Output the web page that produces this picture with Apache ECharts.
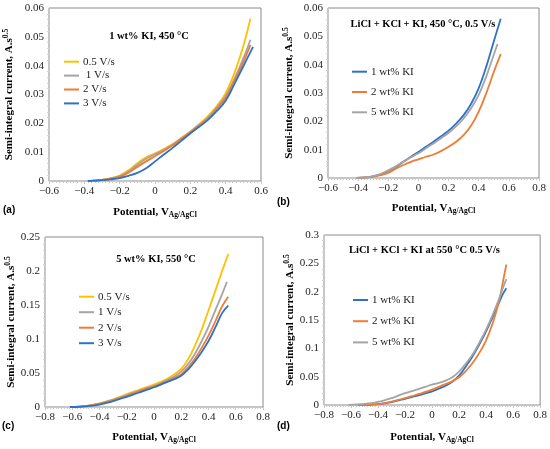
<!DOCTYPE html>
<html>
<head>
<meta charset="utf-8">
<script src="https://cdn.jsdelivr.net/npm/echarts@6/dist/echarts.min.js"></script>
<style>
html,body{margin:0;padding:0;background:#fff;}
#c{width:550px;height:449px;}
</style>
</head>
<body>
<div id="c"></div>
<script>
// ---------- data ----------
// Panel (a): 1 wt% KI, 450 °C
const potA  = [-0.38, -0.35, -0.3, -0.25, -0.2, -0.15, -0.1, -0.05, 0, 0.05, 0.1, 0.15, 0.2, 0.25, 0.3, 0.35, 0.4, 0.45, 0.5, 0.54, 0.555];
const a_05  = [0, 0.0001, 0.0004, 0.0010, 0.0019, 0.0037, 0.0062, 0.0082, 0.0096, 0.0111, 0.0128, 0.0150, 0.0172, 0.0197, 0.0225, 0.0260, 0.0305, 0.0375, 0.0468, 0.0563, null];
const a_1   = [0, 0.0001, 0.0004, 0.0009, 0.0017, 0.0033, 0.0056, 0.0077, 0.0093, 0.0108, 0.0126, 0.0148, 0.0170, 0.0195, 0.0220, 0.0255, 0.0295, 0.0355, 0.0425, 0.0490, null];
const a_2   = [0, 0.0001, 0.0004, 0.0008, 0.0015, 0.0029, 0.0049, 0.0068, 0.0086, 0.0104, 0.0124, 0.0146, 0.0168, 0.0192, 0.0216, 0.0250, 0.0288, 0.0348, 0.0412, 0.0472, null];
const a_3   = [0, 0.0001, 0.0003, 0.0006, 0.0010, 0.0018, 0.0028, 0.0044, 0.0068, 0.0092, 0.0115, 0.0140, 0.0165, 0.0188, 0.0212, 0.0243, 0.0278, 0.0337, 0.0398, null, 0.0465];
// Panel (b): LiCl + KCl + KI, 450 °C, 0.5 V/s
const potB  = [-0.41, -0.35, -0.3, -0.25, -0.2, -0.15, -0.1, -0.05, 0, 0.05, 0.1, 0.15, 0.2, 0.25, 0.3, 0.35, 0.4, 0.45, 0.5, 0.525, 0.546];
const b_1wt = [0, 0.0002, 0.0006, 0.0013, 0.0025, 0.0039, 0.0057, 0.0075, 0.0092, 0.0110, 0.0128, 0.0147, 0.0167, 0.0192, 0.0222, 0.0262, 0.0317, 0.0393, 0.0482, null, 0.0562];
const b_2wt = [0, 0.0002, 0.0005, 0.0010, 0.0018, 0.0033, 0.0046, 0.0057, 0.0066, 0.0075, 0.0083, 0.0095, 0.0110, 0.0128, 0.0151, 0.0185, 0.0234, 0.0299, 0.0374, null, 0.0437];
const b_5wt = [0, 0.0002, 0.0007, 0.0015, 0.0027, 0.0041, 0.0058, 0.0073, 0.0087, 0.0105, 0.0122, 0.0140, 0.0159, 0.0182, 0.0210, 0.0246, 0.0293, 0.0358, 0.0435, 0.0473, null];
// Panel (c): 5 wt% KI, 550 °C
const potC  = [-0.617, -0.55, -0.5, -0.45, -0.4, -0.35, -0.3, -0.25, -0.2, -0.15, -0.1, -0.05, 0, 0.05, 0.1, 0.15, 0.2, 0.25, 0.3, 0.35, 0.4, 0.45, 0.5, 0.535, 0.545];
const c_05  = [0, 0.0005, 0.0015, 0.0032, 0.0055, 0.0083, 0.0113, 0.0150, 0.0190, 0.0225, 0.0260, 0.0295, 0.0330, 0.0370, 0.0420, 0.0480, 0.0560, 0.0700, 0.0900, 0.1140, 0.1420, 0.1710, 0.2000, null, 0.2250];
const c_1   = [0, 0.0004, 0.0013, 0.0030, 0.0050, 0.0077, 0.0105, 0.0140, 0.0175, 0.0210, 0.0245, 0.0280, 0.0310, 0.0350, 0.0400, 0.0450, 0.0520, 0.0630, 0.0780, 0.0970, 0.1180, 0.1420, 0.1660, 0.1840, null];
const c_2   = [0, 0.0004, 0.0012, 0.0027, 0.0045, 0.0070, 0.0097, 0.0130, 0.0165, 0.0200, 0.0238, 0.0270, 0.0300, 0.0340, 0.0380, 0.0430, 0.0480, 0.0580, 0.0710, 0.0870, 0.1050, 0.1260, 0.1480, null, 0.1620];
const c_3   = [0, 0.0003, 0.0010, 0.0020, 0.0035, 0.0060, 0.0088, 0.0120, 0.0150, 0.0185, 0.0220, 0.0255, 0.0290, 0.0330, 0.0370, 0.0410, 0.0460, 0.0550, 0.0670, 0.0810, 0.0970, 0.1170, 0.1380, null, 0.1490];
// Panel (d): LiCl + KCl + KI at 550 °C 0.5 V/s
const potD  = [-0.62, -0.55, -0.5, -0.45, -0.4, -0.35, -0.3, -0.25, -0.2, -0.15, -0.1, -0.05, 0, 0.05, 0.1, 0.15, 0.2, 0.25, 0.3, 0.35, 0.4, 0.45, 0.5, 0.525, 0.55];
const d_1wt = [null, 0, 0.0003, 0.0008, 0.0015, 0.0030, 0.0050, 0.0080, 0.0110, 0.0140, 0.0170, 0.0205, 0.0240, 0.0290, 0.0340, 0.0410, 0.0520, 0.0680, 0.0860, 0.1070, 0.1300, 0.1560, 0.1830, 0.1960, 0.2060];
const d_2wt = [null, 0, 0.0003, 0.0008, 0.0015, 0.0035, 0.0060, 0.0090, 0.0120, 0.0155, 0.0190, 0.0230, 0.0270, 0.0320, 0.0370, 0.0420, 0.0490, 0.0600, 0.0740, 0.0920, 0.1140, 0.1450, 0.1870, 0.2180, 0.2480];
const d_5wt = [0, 0.0010, 0.0020, 0.0033, 0.0055, 0.0085, 0.0120, 0.0165, 0.0210, 0.0245, 0.0280, 0.0320, 0.0360, 0.0390, 0.0430, 0.0490, 0.0590, 0.0730, 0.0890, 0.1100, 0.1330, 0.1600, 0.1900, 0.2070, 0.2220];

const titles = ['1 wt% KI, 450 °C', 'LiCl + KCl + KI, 450 °C, 0.5 V/s', '5 wt% KI, 550 °C', 'LiCl + KCl + KI at 550 °C 0.5 V/s'];
const panelTags = ['(a)', '(b)', '(c)', '(d)'];
const xTicksA = {min: -0.6, max: 0.6, interval: 0.2};
const xTicksB = {min: -0.6, max: 0.8, interval: 0.2};
const xTicksCD = {min: -0.8, max: 0.8, interval: 0.2};
const yTicksAB = {min: 0, max: 0.06, interval: 0.01};
const yTicksC = {min: 0, max: 0.25, interval: 0.05};
const yTicksD = {min: 0, max: 0.3, interval: 0.05};

// ---------- style ----------
const SERIF = 'Liberation Serif';
const COL = {yellow: '#FFC000', gray: '#A5A5A5', orange: '#F07C34', blue: '#2E72C8'};

const panels = [
  {grid: {left: 49, top: 8, width: 212, height: 173}, x: xTicksA, y: yTicksAB, pot: potA,
   series: [['0.5 V/s', a_05, COL.yellow], [' 1 V/s', a_1, COL.gray], ['2 V/s', a_2, COL.orange], ['3 V/s', a_3, COL.blue]],
   legend: {left: 64, top: 55.7, gap: 1.9}, title: [149, 36], tag: [3, 210], yGap: 33, xGap: 24},
  {grid: {left: 328, top: 8, width: 211, height: 170}, x: xTicksB, y: yTicksAB, pot: potB,
   series: [['1 wt% KI', b_1wt, COL.blue], ['2 wt% KI', b_2wt, COL.orange], ['5 wt% KI', b_5wt, COL.gray]],
   legend: {left: 352, top: 65.7, gap: 8.3}, title: [423, 24], tag: [277, 202], yGap: 32, xGap: 23},
  {grid: {left: 45, top: 237, width: 218, height: 170}, x: xTicksCD, y: yTicksC, pot: potC,
   series: [['0.5 V/s', c_05, COL.yellow], ['1 V/s', c_1, COL.gray], ['2 V/s', c_2, COL.orange], ['3 V/s', c_3, COL.blue]],
   legend: {left: 79, top: 290.7, gap: 3.5}, title: [156, 259.5], tag: [2, 426], yGap: 26, xGap: 23},
  {grid: {left: 324, top: 235, width: 217, height: 170}, x: xTicksCD, y: yTicksD, pot: potD,
   series: [['1 wt% KI', d_1wt, COL.blue], ['2 wt% KI', d_2wt, COL.orange], ['5 wt% KI', d_5wt, COL.gray]],
   legend: {left: 353, top: 294, gap: 9.2}, title: [424.5, 250], tag: [277, 426], yGap: 27, xGap: 25}
];

const fmtX = v => { const r = Math.round(v * 10) / 10; return r < 0 ? '\u2212' + Math.abs(r) : String(r); };
const fmtY = v => String(+v.toFixed(3));

const nameRich = {
  b: {fontFamily: SERIF, fontWeight: 'bold', fontSize: 11, color: '#000'},
  s: {fontFamily: SERIF, fontWeight: 'bold', fontSize: 7.5, color: '#000', padding: [6, 0, 0, 0]},
  p: {fontFamily: SERIF, fontWeight: 'bold', fontSize: 7.5, color: '#000', padding: [0, 0, 6, 0]}
};

const option = {
  animation: false,
  backgroundColor: '#fff',
  grid: [], xAxis: [], yAxis: [], series: [], legend: [], graphic: []
};

panels.forEach((p, i) => {
  option.grid.push(Object.assign({show: true, borderColor: '#8a8a8a', borderWidth: 1, containLabel: false}, p.grid));
  option.xAxis.push({
    type: 'value', gridIndex: i, min: p.x.min, max: p.x.max, interval: p.x.interval,
    name: '{b|Potential, V}{s|Ag/AgCl}', nameLocation: 'middle', nameGap: p.xGap,
    nameTextStyle: {rich: nameRich},
    axisLine: {show: true, onZero: false, lineStyle: {color: '#c8c8c8', width: 1}},
    axisTick: {show: true, length: 3, lineStyle: {color: '#c8c8c8'}},
    minorTick: {show: true, splitNumber: 10, length: 2, lineStyle: {color: '#c8c8c8'}},
    splitLine: {show: false},
    axisLabel: {formatter: fmtX, fontFamily: SERIF, fontSize: 11, color: '#222', margin: 5}
  });
  option.yAxis.push({
    type: 'value', gridIndex: i, min: p.y.min, max: p.y.max, interval: p.y.interval,
    name: '{b|Semi-integral current, A.s}{p|0.5}', nameLocation: 'middle', nameGap: p.yGap,
    nameTextStyle: {rich: nameRich},
    axisLine: {show: true, onZero: false, lineStyle: {color: '#c8c8c8', width: 1}},
    axisTick: {show: false},
    minorTick: {show: true, splitNumber: 5, length: 2, lineStyle: {color: '#d4d4d4'}},
    splitLine: {show: false},
    axisLabel: {formatter: fmtY, fontFamily: SERIF, fontSize: 11, color: '#222', margin: 5}
  });
  p.series.forEach(([name, vals, color]) => {
    const data = [];
    p.pot.forEach((x, k) => { if (vals[k] !== null) data.push([x, vals[k]]); });
    option.series.push({
      type: 'line', name, xAxisIndex: i, yAxisIndex: i, data,
      showSymbol: false, smooth: 0.4,
      lineStyle: {color, width: 1.8}, itemStyle: {color}
    });
  });
  option.legend.push({
    orient: 'vertical', left: p.legend.left, top: p.legend.top, itemGap: p.legend.gap,
    icon: 'rect', itemWidth: 15, itemHeight: 2, itemStyle: {borderWidth: 0},
    padding: 0, selectedMode: false,
    data: p.series.map(s => s[0]),
    textStyle: {fontFamily: SERIF, fontSize: 11, color: '#222', lineHeight: 12, padding: [0, 0, 0, -1]}
  });
  option.graphic.push({
    type: 'text', x: p.title[0], y: p.title[1],
    style: {text: titles[i], fontFamily: SERIF, fontWeight: 'bold', fontSize: 10.5, fill: '#000',
            textAlign: 'center', textVerticalAlign: 'middle'}
  });
  option.graphic.push({
    type: 'text', x: p.tag[0], y: p.tag[1],
    style: {text: panelTags[i], fontFamily: 'Liberation Sans', fontWeight: 'bold', fontSize: 10, fill: '#000',
            textAlign: 'left', textVerticalAlign: 'middle'}
  });
});

const chart = echarts.init(document.getElementById('c'), null, {renderer: 'canvas'});
chart.setOption(option);
</script>
</body>
</html>
